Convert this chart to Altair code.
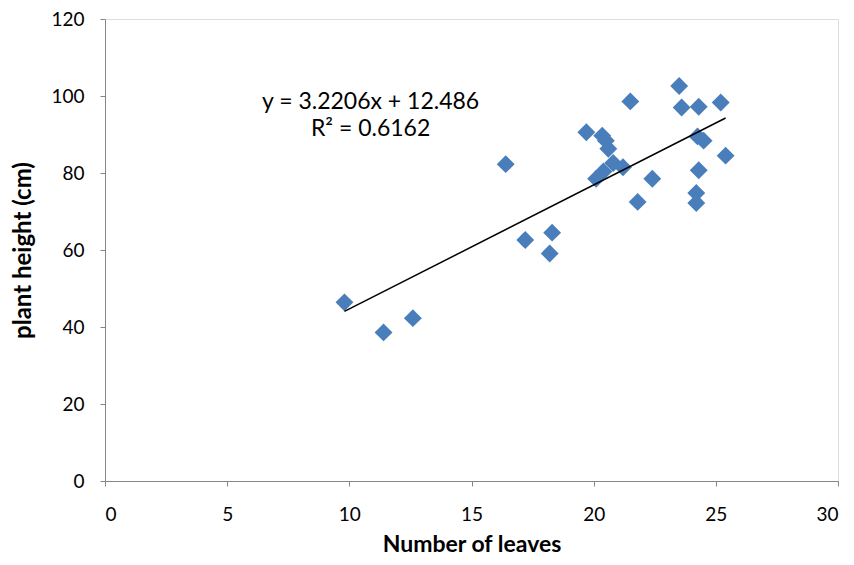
import altair as alt
import pandas as pd

# Data
leaves = [9.8, 11.4, 12.6, 16.4, 17.2, 18.3, 18.2, 19.7, 20.35, 20.5,
          20.6, 20.8, 21.2, 20.4, 20.1, 22.4, 21.8, 21.5, 23.5, 23.6,
          24.3, 25.2, 24.25, 24.5, 25.4, 24.3, 24.2, 24.2]
height = [46.4, 38.6, 42.3, 82.3, 62.6, 64.5, 59.1, 90.6, 89.7, 88.4,
          86.3, 82.6, 81.5, 80.4, 78.5, 78.5, 72.5, 98.6, 102.6, 97.0,
          97.2, 98.3, 89.5, 88.4, 84.5, 80.7, 74.8, 72.2]

slope = 3.2206
intercept = 12.486
r2 = 0.6162

label_lines = [f"y = {slope}x + {intercept}", f"R² = {r2}"]
label_x = [10.87, 10.87]
label_y = [98.5, 91.3]

df = pd.DataFrame({"leaves": leaves, "height": height})
x_ends = [min(leaves), max(leaves)]
trend = pd.DataFrame({"leaves": x_ends, "height": [slope * v + intercept for v in x_ends]})
labels = pd.DataFrame({"x": label_x, "y": label_y, "text": label_lines})

FONT = "Lato"

xscale = alt.Scale(domain=[0, 30], nice=False, zero=True)
yscale = alt.Scale(domain=[0, 120], nice=False)

xaxis = alt.Axis(values=[0, 5, 10, 15, 20, 25, 30], title="Number of leaves", grid=False,
                 domainColor="#868686", tickColor="#868686", tickSize=5,
                 labelFontSize=19, labelColor="#000000", labelFont=FONT, labelPadding=19,
                 titleFontSize=23, titleFont=FONT, titleFontWeight="bold", titleColor="#000000",
                 titlePadding=9)
yaxis = alt.Axis(values=[0, 20, 40, 60, 80, 100, 120], title="plant height (cm)", grid=False,
                 domainColor="#868686", tickColor="#868686", tickSize=5,
                 labelFontSize=19, labelColor="#000000", labelFont=FONT, labelPadding=16,
                 titleFontSize=24, titleFont=FONT, titleFontWeight="bold", titleColor="#000000",
                 titlePadding=15)

points = alt.Chart(df).mark_point(shape="diamond", filled=True, size=320, color="#4a7ebb", opacity=1).encode(
    x=alt.X("leaves:Q", scale=xscale, axis=xaxis),
    y=alt.Y("height:Q", scale=yscale, axis=yaxis),
)

line = alt.Chart(trend).mark_line(color="#000000", strokeWidth=1.5).encode(
    x=alt.X("leaves:Q", scale=xscale),
    y=alt.Y("height:Q", scale=yscale),
)

text = alt.Chart(labels).mark_text(fontSize=23, font=FONT, color="#000000", align="center", baseline="middle").encode(
    x=alt.X("x:Q", scale=xscale),
    y=alt.Y("y:Q", scale=yscale),
    text="text:N",
)

chart = alt.layer(points, line, text).properties(
    width=733, height=462,
    autosize=alt.AutoSizeParams(type="none"),
    padding={"left": 97, "top": 11, "right": 5, "bottom": 76},
).configure_view(stroke=None).configure(background="#ffffff")

chart.save("out.html", embed_options={"renderer": "svg", "actions": False})
